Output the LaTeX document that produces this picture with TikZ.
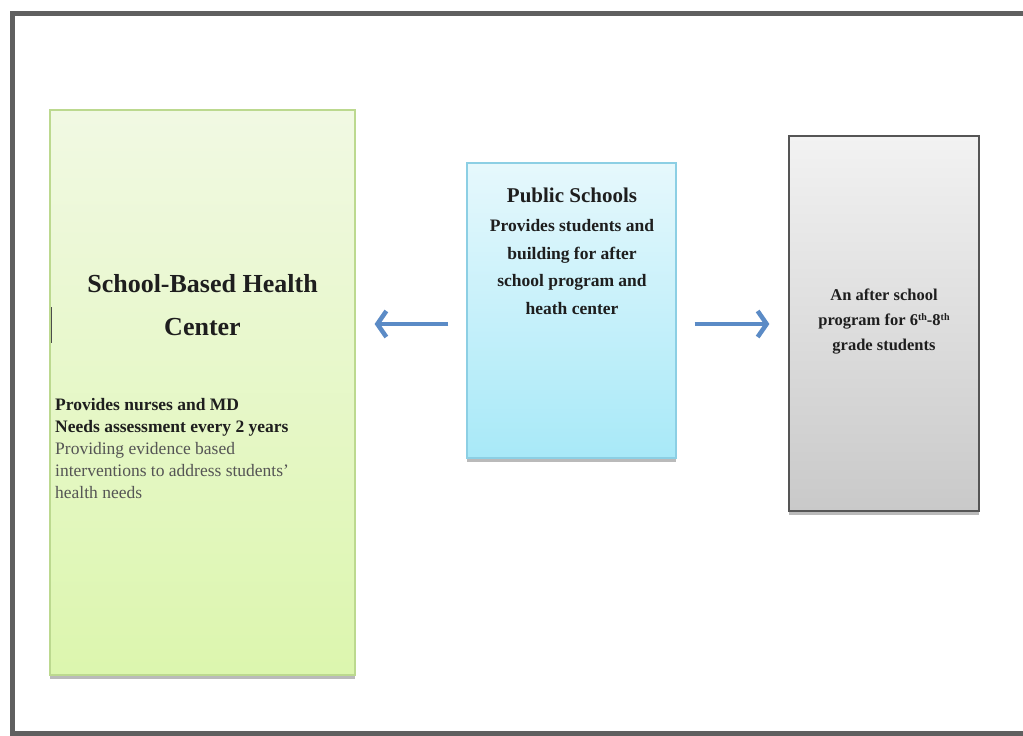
\documentclass[tikz,border=0pt]{standalone}
\usepackage{fontspec}
\setmainfont{Liberation Serif}
\usetikzlibrary{arrows.meta,shadows}
\definecolor{frameC}{HTML}{606060}
\definecolor{gTop}{HTML}{F1F9E3}
\definecolor{gBot}{HTML}{DCF6AE}
\definecolor{gLine}{HTML}{BCD98F}
\definecolor{bTop}{HTML}{E6F8FC}
\definecolor{bBot}{HTML}{A8E9F8}
\definecolor{bLine}{HTML}{8CCFE4}
\definecolor{kTop}{HTML}{F2F2F2}
\definecolor{kBot}{HTML}{C9C9C9}
\definecolor{kLine}{HTML}{555555}
\definecolor{arrC}{HTML}{5B8BC6}
\definecolor{txtC}{HTML}{1E1E1E}
\definecolor{softC}{HTML}{555555}
\tikzset{
  box/.style={draw, line width=1.2pt, inner sep=0pt, rectangle,
    drop shadow={shadow xshift=0pt, shadow yshift=-4pt, opacity=0.45, fill=black!60}},
  link/.style={arrC, line width=4.5pt, -{Straight Barb[length=9pt,width=26pt]}, shorten <=18pt, shorten >=19pt},
  lbl/.style={inner sep=0pt, text=txtC, align=center}
}
\begin{document}
\begin{tikzpicture}[x=1pt,y=-1pt]
\useasboundingbox (0,0) rectangle (1023,736);
\fill[white] (0,0) rectangle (1023,736);
\draw[frameC, line width=5pt] (1060,13) -- (12.5,13) -- (12.5,733) -- (1060,733);

\node[box, draw=gLine, top color=gTop, bottom color=gBot, minimum width=305pt, minimum height=565pt] (green) at (202.5,392.5) {};
\node[box, draw=bLine, top color=bTop, bottom color=bBot, minimum width=209pt, minimum height=295pt] (blue) at (571.5,310.5) {};
\node[box, draw=kLine, top color=kTop, bottom color=kBot, minimum width=190pt, minimum height=375pt] (gray) at (884,323.5) {};

\node[lbl, font=\bfseries\fontsize{26}{43}\selectfont] (gtitle) at (202.5,305.5) {School-Based Health\\Center};
\node[lbl, anchor=west, align=left, font=\fontsize{17.5}{22}\selectfont] (gbody) at (55,449)
  {\textbf{Provides nurses and MD}\\
   \textbf{Needs assessment every 2 years}\\
   \textcolor{softC}{Providing evidence based}\\
   \textcolor{softC}{interventions to address students’}\\
   \textcolor{softC}{health needs}};

\node[lbl, font=\bfseries\fontsize{21}{26}\selectfont] (btitle) at (572,195) {Public Schools};
\node[lbl, font=\bfseries\fontsize{17.5}{27.5}\selectfont] (bbody) at (572,267)
  {Provides students and\\building for after\\school program and\\heath center};

\node[lbl, font=\bfseries\fontsize{16.5}{25}\selectfont] (gtext) at (884,322)
  {An after school\\program for 6{\fontsize{10}{10}\selectfont\raisebox{5pt}{th}}-8{\fontsize{10}{10}\selectfont\raisebox{5pt}{th}}\\grade students};

\coordinate (ay) at (0,324);
\draw[link] (blue.west |- ay) -- (green.east |- ay);
\draw[link] (blue.east |- ay) -- (gray.west |- ay);

\coordinate (tickA) at (51,307);
\coordinate (tickB) at (51,343);
\draw[black!70, line width=1pt] (tickA) -- (tickB);
\end{tikzpicture}
\end{document}
